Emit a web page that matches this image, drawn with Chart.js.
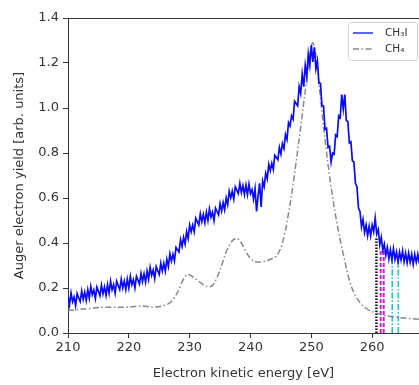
<!DOCTYPE html>
<html>
<head>
<meta charset="utf-8">
<script src="https://cdn.jsdelivr.net/npm/chart.js@4/dist/chart.umd.min.js"></script>
<style>
  body { margin: 0; background: #fff; }
  canvas { display: block; }
</style>
</head>
<body>
<canvas id="auger-chart" width="419" height="385"></canvas>
<script>
// CH3I spectrum, sampled every 0.25 eV (one row per 2 eV)
const ch3iEnergy = [
  210, 210.25, 210.5, 210.75, 211, 211.25, 211.5, 211.75,
  212, 212.25, 212.5, 212.75, 213, 213.25, 213.5, 213.75,
  214, 214.25, 214.5, 214.75, 215, 215.25, 215.5, 215.75,
  216, 216.25, 216.5, 216.75, 217, 217.25, 217.5, 217.75,
  218, 218.25, 218.5, 218.75, 219, 219.25, 219.5, 219.75,
  220, 220.25, 220.5, 220.75, 221, 221.25, 221.5, 221.75,
  222, 222.25, 222.5, 222.75, 223, 223.25, 223.5, 223.75,
  224, 224.25, 224.5, 224.75, 225, 225.25, 225.5, 225.75,
  226, 226.25, 226.5, 226.75, 227, 227.25, 227.5, 227.75,
  228, 228.25, 228.5, 228.75, 229, 229.25, 229.5, 229.75,
  230, 230.25, 230.5, 230.75, 231, 231.25, 231.5, 231.75,
  232, 232.25, 232.5, 232.75, 233, 233.25, 233.5, 233.75,
  234, 234.25, 234.5, 234.75, 235, 235.25, 235.5, 235.75,
  236, 236.25, 236.5, 236.75, 237, 237.25, 237.5, 237.75,
  238, 238.25, 238.5, 238.75, 239, 239.25, 239.5, 239.75,
  240, 240.25, 240.5, 240.75, 241, 241.25, 241.5, 241.75,
  242, 242.25, 242.5, 242.75, 243, 243.25, 243.5, 243.75,
  244, 244.25, 244.5, 244.75, 245, 245.25, 245.5, 245.75,
  246, 246.25, 246.5, 246.75, 247, 247.25, 247.5, 247.75,
  248, 248.25, 248.5, 248.75, 249, 249.25, 249.5, 249.75,
  250, 250.25, 250.5, 250.75, 251, 251.25, 251.5, 251.75,
  252, 252.25, 252.5, 252.75, 253, 253.25, 253.5, 253.75,
  254, 254.25, 254.5, 254.75, 255, 255.25, 255.5, 255.75,
  256, 256.25, 256.5, 256.75, 257, 257.25, 257.5, 257.75,
  258, 258.25, 258.5, 258.75, 259, 259.25, 259.5, 259.75,
  260, 260.25, 260.5, 260.75, 261, 261.25, 261.5, 261.75,
  262, 262.25, 262.5, 262.75, 263, 263.25, 263.5, 263.75,
  264, 264.25, 264.5, 264.75, 265, 265.25, 265.5, 265.75,
  266, 266.25, 266.5, 266.75, 267, 267.25, 267.5, 267.75
];
const ch3iYield = [
  .165, .126, .178, .139, .160, .122, .175, .157,
  .140, .187, .150, .182, .145, .192, .155, .207,
  .170, .191, .153, .204, .185, .166, .213, .174,
  .205, .167, .215, .177, .230, .192, .215, .177,
  .230, .211, .193, .239, .200, .231, .193, .239,
  .200, .252, .215, .237, .200, .252, .235, .217,
  .265, .229, .263, .226, .275, .239, .292, .256,
  .280, .242, .295, .277, .260, .310, .275, .310,
  .275, .327, .295, .352, .320, .350, .320, .380,
  .370, .360, .415, .385, .425, .395, .450, .420,
  .480, .450, .480, .450, .510, .495, .480, .530,
  .495, .527, .490, .537, .500, .552, .515, .537,
  .500, .555, .540, .525, .575, .542, .580, .547,
  .600, .570, .630, .600, .630, .595, .650, .635,
  .620, .665, .625, .655, .615, .657, .615, .662,
  .620, .637, .595, .642, .540, .610, .665, .560,
  .675, .650, .710, .685, .750, .722, .755, .727,
  .790, .780, .770, .825, .795, .842, .820, .882,
  .860, .935, .920, .965, .950, 1.030, 1.020, 1.010,
  1.095, 1.065, 1.150, 1.095, 1.190, 1.140, 1.240, 1.190,
  1.280, 1.205, 1.270, 1.175, 1.210, 1.110, 1.110, 1.010,
  1.010, .905, .910, .825, .830, .760, .800, .795,
  .880, .873, .965, .957, 1.060, .995, 1.060, .945,
  .940, .845, .850, .765, .760, .665, .650, .555,
  .540, .472, .505, .447, .480, .432, .475, .432,
  .480, .450, .510, .440, .460, .392, .425, .367,
  .395, .345, .380, .330, .370, .327, .375, .327,
  .360, .315, .360, .325, .365, .317, .355, .312,
  .355, .315, .350, .305, .350, .315, .350, .310
];

// CH4 reference spectrum
const ch4Energy = [
  210, 212, 214, 216, 218, 220, 222, 224, 225.5, 227, 228, 229, 229.7,
  230.5, 231.5, 232.5, 233.3, 234, 235, 236, 237, 237.8, 238.5, 239.5,
  240.5, 241.5, 242.5, 243.5, 244.2, 245, 245.7, 246.3, 247, 247.7,
  248.5, 249.3, 249.8, 250.2, 250.6, 251.2, 252, 252.7, 253.3, 254,
  254.7, 255.5, 256.3, 257, 258, 259, 260, 261, 262, 264, 266, 268
];
const ch4Yield = [
  0.10, 0.105, 0.11, 0.115, 0.115, 0.115, 0.12, 0.115, 0.12, 0.14, 0.18, 0.24, 0.26,
  0.25, 0.23, 0.21, 0.205, 0.22, 0.28, 0.36, 0.41, 0.42, 0.40, 0.35,
  0.32, 0.315, 0.32, 0.33, 0.34, 0.38, 0.45, 0.54, 0.66, 0.80,
  0.97, 1.14, 1.25, 1.29, 1.26, 1.12, 0.92, 0.76, 0.64, 0.52,
  0.42, 0.32, 0.23, 0.18, 0.135, 0.11, 0.095, 0.085, 0.078, 0.07, 0.065, 0.06
];

// vertical threshold markers
const markerEnergy = [260.7, 261.4, 261.9, 263.3, 264.3];
const markerTop = [0.42, 0.37, 0.37, 0.34, 0.34];
const markerColor = ['#111111', '#d21ed2', '#d21ed2', '#1fc3c8', '#1fc3c8'];
const markerWidth = [2.5, 2, 2, 1.6, 1.6];
const markerDash = [[1.5, 1.5], [4, 2], [4, 2], [6, 2, 1.5, 2], [6, 2, 1.5, 2]];

const xTicks = [210, 220, 230, 240, 250, 260];
const seriesLabels = ['CH\u2083I', 'CH\u2084'];

const FONT = 'DejaVu Sans';
const INK = '#333333';

function points(xs, ys) {
  return xs.map((x, i) => ({ x: x, y: ys[i] }));
}

const datasets = [
  {
    label: seriesLabels[0],
    data: points(ch3iEnergy, ch3iYield),
    borderColor: '#0a0aff',
    borderWidth: 1.7,
    pointRadius: 0,
    tension: 0
  },
  {
    label: seriesLabels[1],
    data: points(ch4Energy, ch4Yield),
    borderColor: '#888888',
    borderWidth: 1.5,
    borderDash: [6, 2.5, 1.5, 2.5],
    pointRadius: 0,
    cubicInterpolationMode: 'monotone'
  }
];

markerEnergy.forEach((e, i) => {
  datasets.push({
    label: 'marker' + i,
    data: [{ x: e, y: 0 }, { x: e, y: markerTop[i] }],
    borderColor: markerColor[i],
    borderWidth: markerWidth[i],
    borderDash: markerDash[i],
    pointRadius: 0
  });
});

// top spine + matplotlib-like legend box
const framePlugin = {
  id: 'frame',
  afterDatasetsDraw(chart) {
    const ctx = chart.ctx;
    const a = chart.chartArea;
    ctx.save();
    ctx.strokeStyle = INK;
    ctx.lineWidth = 1;
    ctx.beginPath();
    ctx.moveTo(a.left, a.top + 0.5);
    ctx.lineTo(a.right, a.top + 0.5);
    ctx.stroke();

    // legend
    const bx = 348, by = 22, bw = 69, bh = 38;
    ctx.fillStyle = 'rgba(255,255,255,0.8)';
    ctx.strokeStyle = '#d0d0d0';
    ctx.beginPath();
    ctx.roundRect(bx + 0.5, by + 0.5, bw, bh, 3);
    ctx.fill();
    ctx.stroke();

    const rows = [by + 11, by + 27];
    [0, 1].forEach((k) => {
      const ds = chart.data.datasets[k];
      ctx.strokeStyle = ds.borderColor;
      ctx.lineWidth = k === 0 ? 1.3 : ds.borderWidth;
      ctx.setLineDash(ds.borderDash || []);
      ctx.beginPath();
      ctx.moveTo(bx + 5, rows[k]);
      ctx.lineTo(bx + 25, rows[k]);
      ctx.stroke();
      ctx.setLineDash([]);
      ctx.fillStyle = INK;
      ctx.font = '10.5px ' + FONT;
      ctx.textBaseline = 'middle';
      ctx.fillText(ds.label, bx + 37, rows[k]);
    });
    ctx.restore();
  }
};

const ctx = document.getElementById('auger-chart').getContext('2d');
const chart = new Chart(ctx, {
  type: 'line',
  data: { datasets: datasets },
  options: {
    responsive: false,
    animation: false,
    layout: { padding: { top: 18, right: 0, left: 0, bottom: 0 } },
    plugins: {
      legend: { display: false },
      tooltip: { enabled: false }
    },
    scales: {
      x: {
        type: 'linear',
        min: 210,
        max: 267.7,
        afterBuildTicks: (scale) => {
          scale.ticks = xTicks.map((v) => ({ value: v }));
        },
        afterFit: (scale) => { scale.height = 52; },
        border: { color: INK, width: 1 },
        grid: { drawOnChartArea: false, drawTicks: true, tickLength: 5, color: INK },
        ticks: {
          color: INK,
          font: { family: FONT, size: 13 },
          padding: 2,
          maxRotation: 0
        },
        title: {
          display: true,
          text: 'Electron kinetic energy [eV]',
          color: INK,
          font: { family: FONT, size: 13 },
          padding: { top: 2, bottom: 4 }
        }
      },
      y: {
        type: 'linear',
        min: 0,
        max: 1.4,
        afterFit: (scale) => { scale.width = 68; },
        border: { color: INK, width: 1 },
        grid: { drawOnChartArea: false, drawTicks: true, tickLength: 5, color: INK },
        ticks: {
          stepSize: 0.2,
          color: INK,
          font: { family: FONT, size: 13 },
          padding: 4,
          callback: (v) => v.toFixed(1)
        },
        title: {
          display: true,
          text: 'Auger electron yield [arb. units]',
          color: INK,
          font: { family: FONT, size: 13 },
          padding: { top: 12, bottom: 2 }
        }
      }
    }
  },
  plugins: [framePlugin]
});
</script>
</body>
</html>
